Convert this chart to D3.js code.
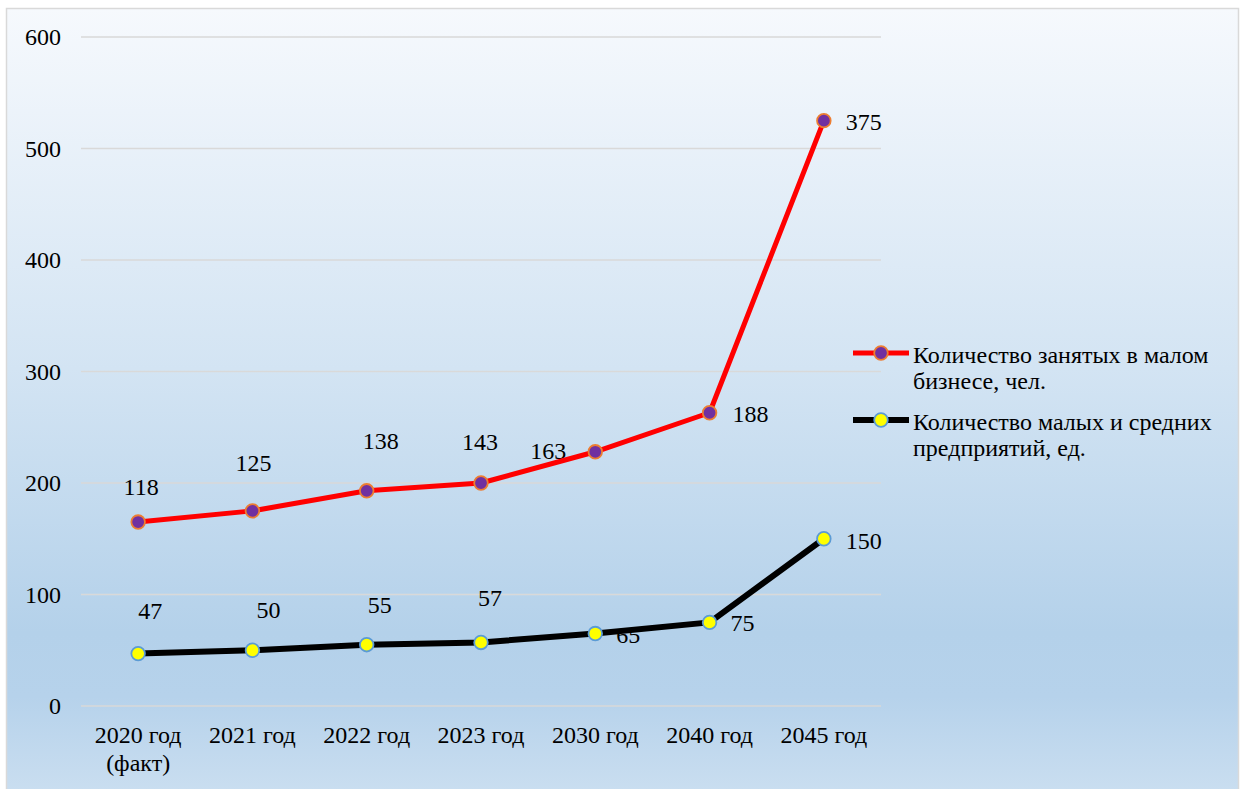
<!DOCTYPE html>
<html><head><meta charset="utf-8">
<script src="https://cdn.jsdelivr.net/npm/d3@7"></script>
<style>
html,body{margin:0;padding:0;background:#fff;}
svg{display:block;}
svg text{font-family:"Liberation Serif","Times New Roman",serif !important;fill:#000;}
</style></head>
<body>
<svg id="chart" width="1246" height="789"></svg>
<script>
const categories = [["2020 год","(факт)"],["2021 год"],["2022 год"],["2023 год"],["2030 год"],["2040 год"],["2045 год"]];
const employed = [118,125,138,143,163,188,375];   // Количество занятых в малом бизнесе, чел.
const firms = [47,50,55,57,65,75,150];             // Количество малых и средних предприятий, ед.
const yTicks = [0,100,200,300,400,500,600];
const seriesNames = ["Количество занятых в малом бизнесе, чел.","Количество малых и средних предприятий, ед."];
const legendLines = [["Количество занятых в малом","бизнесе, чел."],["Количество малых и средних","предприятий, ед."]];

// manual label offsets (dx, dy) relative to point
const employedLabelOff = [[3,-35],[1,-48],[14,-50],[-1,-41],[-47,-1],[41,1],[40,1]];
const firmsLabelOff = [[12,-43],[16,-40],[13,-40],[9,-44],[33,2],[33,1],[40,2]];

const FS = 24;
const svg = d3.select("#chart");
const defs = svg.append("defs");
const grad = defs.append("linearGradient").attr("id","bg").attr("x1",0).attr("y1",0).attr("x2",0).attr("y2",1);
[[0,"#f6f9fd"],[0.45,"#d3e4f3"],[0.78,"#b4d1ea"],[0.86,"#b6d2eb"],[1,"#cde0f1"]].forEach(s=>grad.append("stop").attr("offset",s[0]).attr("stop-color",s[1]));

svg.append("rect").attr("x",6.5).attr("y",8.5).attr("width",1232).attr("height",800)
  .attr("fill","url(#bg)").attr("stroke","#d9d9d9").attr("stroke-width",1.5);

const rows = categories.map((c,i)=>({cat:c[0], firms:firms[i], employed:employed[i]}));
const stack = d3.stack().keys(["firms","employed"])(rows);

const x = d3.scaleBand().domain(categories.map(c=>c[0])).range([81,881]);
const y = d3.scaleLinear().domain([0,600]).range([706,37]);
const cx = c => x(c)+x.bandwidth()/2;

// gridlines
svg.append("g").selectAll("line").data(yTicks).join("line")
  .attr("x1",81).attr("x2",881).attr("y1",d=>y(d)).attr("y2",d=>y(d))
  .attr("stroke","#d9d9d9").attr("stroke-width",1.5);

// y axis labels
const yAxis = d3.axisLeft(y).tickValues(yTicks).tickSize(0).tickPadding(0);
const yg = svg.append("g").attr("transform","translate(61,0)").call(yAxis);
yg.attr("font-family",null).attr("font-size",null);
yg.select(".domain").remove();
yg.selectAll("text").attr("font-size",FS).attr("fill","#000").attr("dy","0.33em");

// x axis labels
const xg = svg.append("g");
categories.forEach((c,i)=>{
  const t = xg.append("text").attr("x",cx(c[0])).attr("y",743).attr("text-anchor","middle").attr("font-size",FS);
  c.forEach((ln,j)=>t.append("tspan").attr("x",cx(c[0])).attr("dy",j===0?0:28).text(ln));
});

// data labels (drawn beneath lines)
const lblG = svg.append("g");
const employedTop = stack[1], firmsTop = stack[0];
employedTop.forEach((d,i)=>{
  lblG.append("text").attr("x",cx(d.data.cat)+employedLabelOff[i][0]).attr("y",y(d[1])+employedLabelOff[i][1])
    .attr("dy","0.33em").attr("text-anchor","middle").attr("font-size",FS).text(employed[i]);
});
firmsTop.forEach((d,i)=>{
  lblG.append("text").attr("x",cx(d.data.cat)+firmsLabelOff[i][0]).attr("y",y(d[1])+firmsLabelOff[i][1])
    .attr("dy","0.33em").attr("text-anchor","middle").attr("font-size",FS).text(firms[i]);
});

const line = d3.line().x(d=>cx(d.data.cat)).y(d=>y(d[1]));
const styles = [
  {s:stack[1], stroke:"#ff0000", w:5, fill:"#7030a0", mstroke:"#ed7d31"},
  {s:stack[0], stroke:"#000000", w:6, fill:"#ffff00", mstroke:"#5b9bd5"}
];
styles.forEach(st=>{
  svg.append("path").datum(st.s).attr("d",line).attr("fill","none").attr("stroke",st.stroke)
    .attr("stroke-width",st.w).attr("stroke-linejoin","round");
});
styles.forEach(st=>{
  svg.append("g").selectAll("circle").data(st.s).join("circle")
    .attr("cx",d=>cx(d.data.cat)).attr("cy",d=>y(d[1])).attr("r",6.8)
    .attr("fill",st.fill).attr("stroke",st.mstroke).attr("stroke-width",1.8);
});

// legend
const legY = [353,420];
styles.forEach((st,i)=>{
  const g = svg.append("g");
  g.append("line").attr("x1",853).attr("x2",909).attr("y1",legY[i]).attr("y2",legY[i])
    .attr("stroke",st.stroke).attr("stroke-width",st.w);
  g.append("circle").attr("cx",881).attr("cy",legY[i]).attr("r",6.8)
    .attr("fill",st.fill).attr("stroke",st.mstroke).attr("stroke-width",1.8);
  const t = g.append("text").attr("x",913).attr("y",legY[i]+10).attr("font-size",FS);
  legendLines[i].forEach((ln,j)=>t.append("tspan").attr("x",913).attr("dy",j===0?0:26).text(ln));
  g.append("title").text(seriesNames[i]);
});
</script>
</body></html>
